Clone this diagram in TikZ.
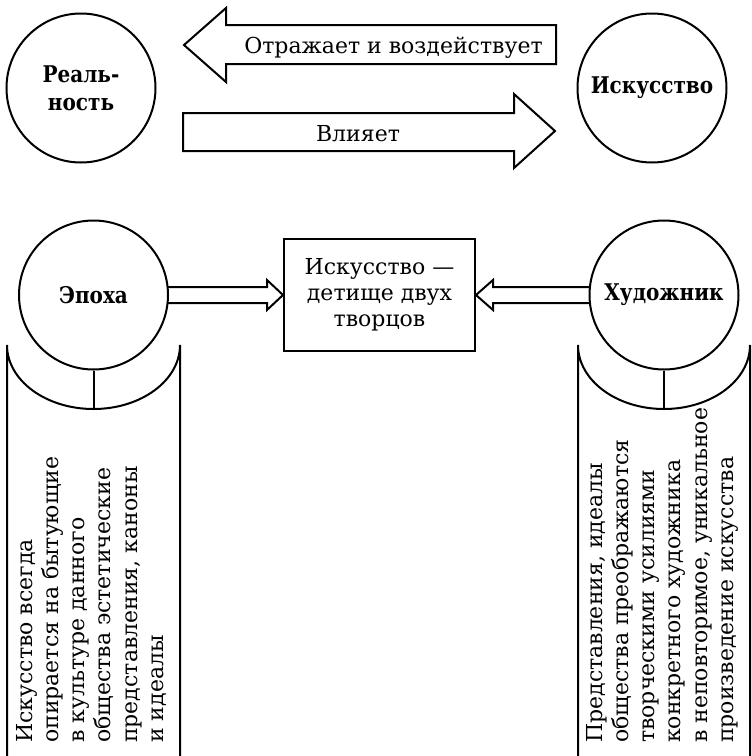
\documentclass[tikz,border=0pt]{standalone}
\usepackage{fontspec}
\setmainfont{DejaVu Serif}
\newfontfamily\bfnarrow{DejaVu Serif}[FakeStretch=0.87]
\usetikzlibrary{backgrounds,calc}
\begin{document}
\begin{tikzpicture}[x=1pt,y=-1pt,line width=2pt,line join=miter,
  circ/.style={circle,draw,line width=2pt,fill=white,minimum size=149pt,inner sep=0pt,
    align=center,font=\bfnarrow\bfseries\fontsize{23}{28}\selectfont},
  lbl/.style={inner sep=0pt,font=\fontsize{22}{26}\selectfont},
  boxnode/.style={draw,line width=2pt,fill=white,minimum width=191pt,minimum height=112pt,
    align=center,inner sep=0pt,font=\fontsize{22}{26}\selectfont},
  vtext/.style={rotate=90,align=left,inner sep=0pt,anchor=north west,
    font=\fontsize{22}{26.2}\selectfont},
  blockarrow/.style={draw,line width=2pt,line join=miter},
  hollowarrow/.style={draw,line width=2pt,line join=miter},
  bracket/.style={draw,line width=2pt}]
\useasboundingbox (0,0) rectangle (752,756);

% circles
\node[circ] (real) at (81,88) {Реаль-\\ность};
\node[circ] (art) at (652,88) {Искусство};
\node[circ] (epoch) at (93.5,295) {Эпоха};
\node[circ] (artist) at (664,295) {Художник};
\node[boxnode] (box) at (379.5,295) {Искусство —\\детище двух\\творцов};

% block arrows between top circles
\draw[blockarrow] (556,25) -- (226,25) -- (226,8) -- (184,45) -- (226,82) -- (226,64) -- (556,64) -- cycle;
\node[lbl,anchor=base] (reflect) at (393.5,53) {Отражает и воздействует};
\draw[blockarrow] (183,113) -- (514,113) -- (514,94) -- (555,131) -- (514,168) -- (514,151) -- (183,151) -- cycle;
\node[lbl,anchor=base] (infl) at (358,141) {Влияет};

% hollow arrows to the box
\begin{pgfonlayer}{background}
\draw[hollowarrow] ($(epoch.east)+(-8,-8)$) -- ($(box.west)+(-16,-8)$) -- ++(0,-7)
  -- (box.west) -- ++(-16,15) -- ++(0,-7) -- ($(epoch.east)+(-8,8)$);
\draw[hollowarrow] ($(artist.west)+(8,-8)$) -- ($(box.east)+(17,-8)$) -- ++(0,-7)
  -- (box.east) -- ++(17,15) -- ++(0,-7) -- ($(artist.west)+(8,8)$);
\end{pgfonlayer}

% brackets
\coordinate (lb) at (93.5,409);
\coordinate (rb) at (664,409);
\draw[bracket] (7,760) -- (7,345) arc[start angle=180,end angle=0,x radius=86.5,y radius=64] -- (180,760);
\draw[bracket] (epoch.south) -- (lb);
\draw[bracket] (578,760) -- (578,345) arc[start angle=180,end angle=0,x radius=86,y radius=64] -- (750,760);
\draw[bracket] (artist.south) -- (rb);

% vertical texts
\node[vtext] (ltext) at (16,743) {Искусство всегда\\опирается на бытующие\\в культуре данного\\общества эстетические\\представления, каноны\\и идеалы};
\node[vtext] (rtext) at (586,743) {Представления, идеалы\\общества преображаются\\творческими усилиями\\конкретного художника\\в неповторимое, уникальное\\произведение искусства};
\end{tikzpicture}
\end{document}
